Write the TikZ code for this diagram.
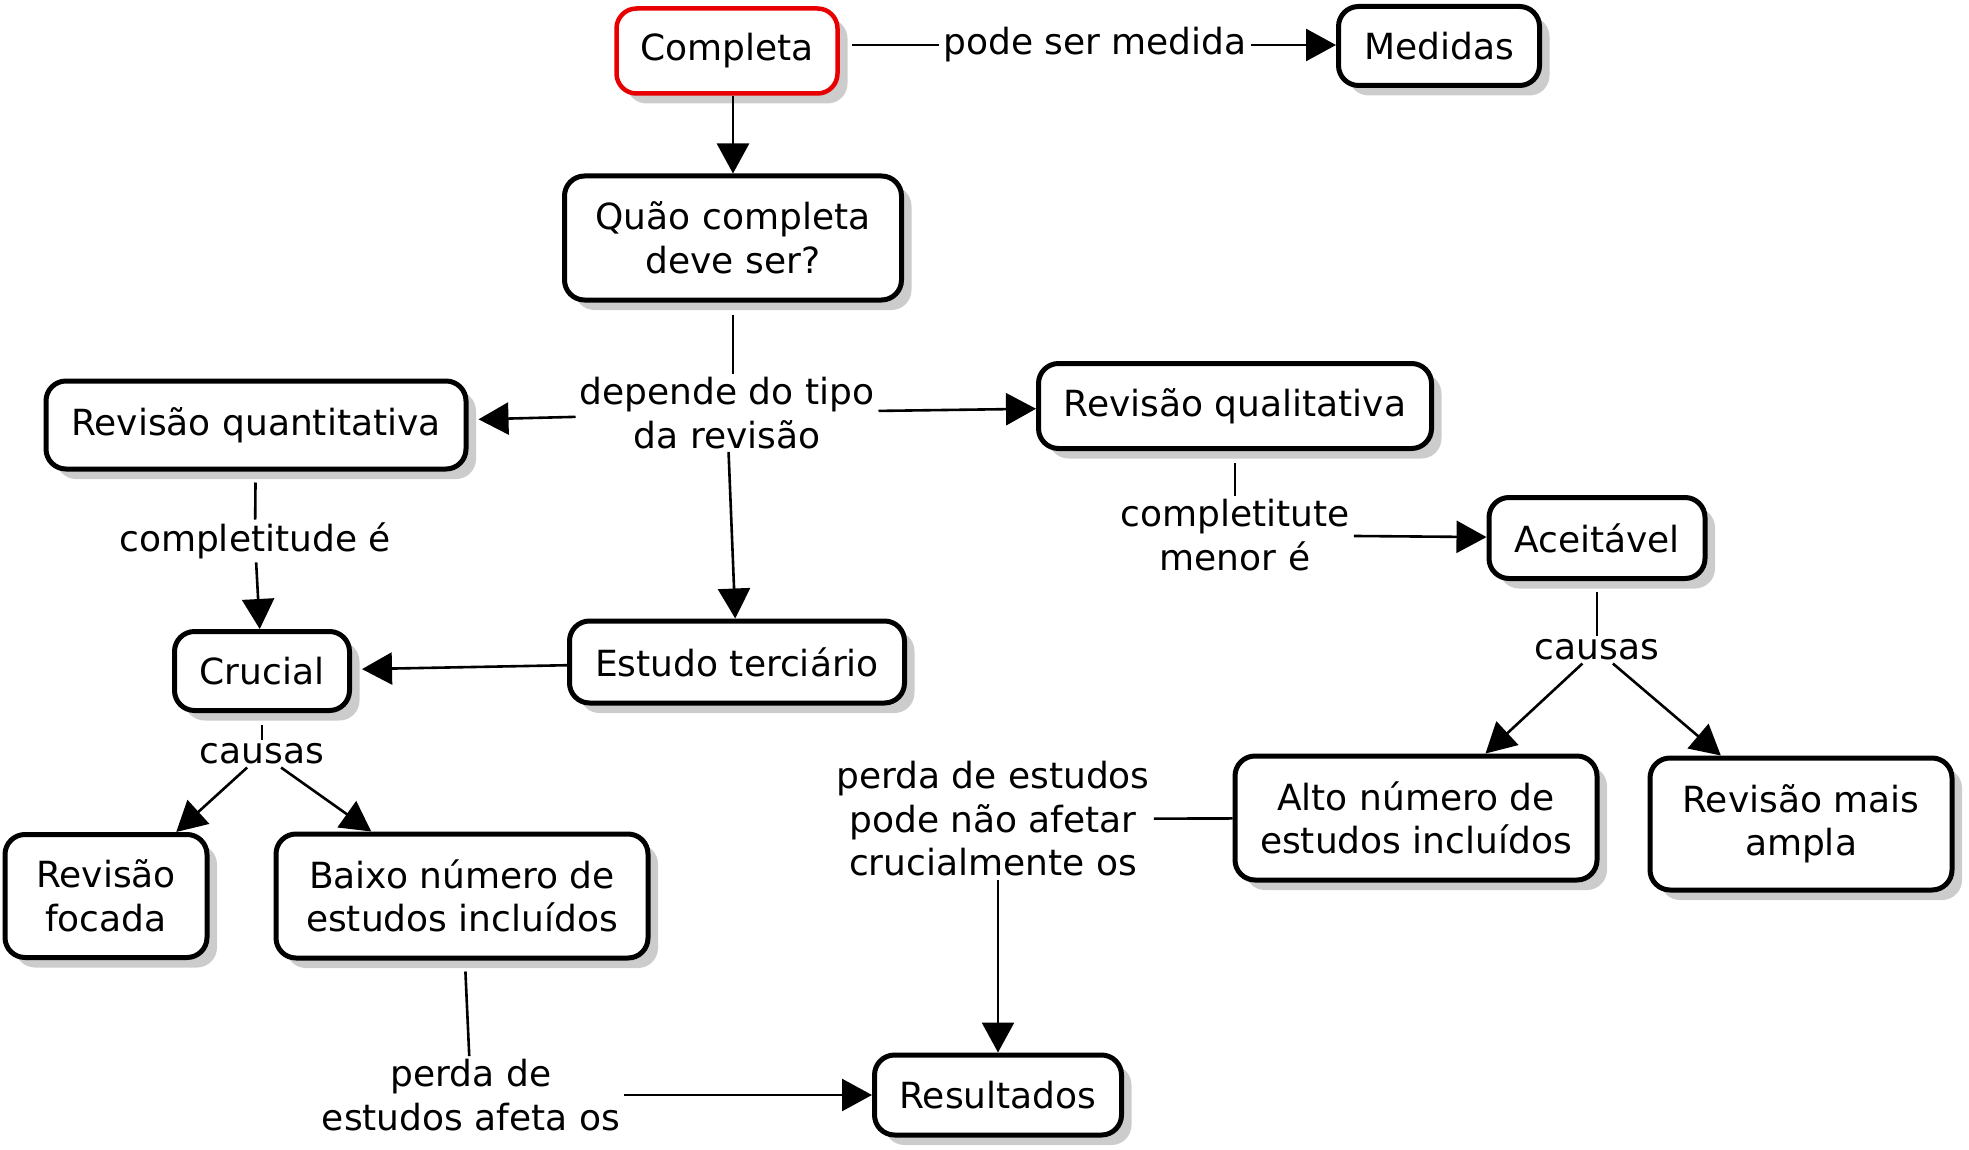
\documentclass[tikz,border=0pt]{standalone}
\usepackage{fontspec}
\setmainfont{DejaVu Sans}
\usetikzlibrary{arrows.meta,shadows}
\definecolor{cmred}{RGB}{232,0,0}
\definecolor{shgray}{RGB}{204,204,204}
\begin{document}
\begin{tikzpicture}[x=1pt,y=-1pt,
  box/.style={draw=black, line width=5pt, rounded corners=20pt, fill=white, align=center, inner sep=0pt,
    font=\fontsize{36}{43.5}\selectfont,
    drop shadow={shadow xshift=10pt, shadow yshift=-10pt, fill=shgray, opacity=1}},
  lab/.style={align=center, inner xsep=4pt, inner ysep=3pt, font=\fontsize{36}{43.5}\selectfont},
  conn/.style={line width=2.6pt},
  arr/.style={conn, -{Triangle[length=30pt,width=32pt]}}
]
\useasboundingbox (0,0) rectangle (1969,1150);

% concept boxes
\node[box, draw=cmred, line width=4.5pt, minimum width=221pt, minimum height=85pt] (c1) at (727,51) {Completa};
\node[box, minimum width=201pt, minimum height=79pt] (med) at (1439,46) {Medidas};
\node[box, minimum width=337pt, minimum height=124pt] (q) at (733,238) {Quão completa\\deve ser?};
\node[box, minimum width=420pt, minimum height=88pt] (rq) at (256,425) {Revisão quantitativa};
\node[box, minimum width=393pt, minimum height=85pt] (rl) at (1235,406) {Revisão qualitativa};
\node[box, minimum width=216pt, minimum height=81pt] (ac) at (1597,538) {Aceitável};
\node[box, minimum width=175pt, minimum height=79pt] (cr) at (262,671) {Crucial};
\node[box, minimum width=335pt, minimum height=82pt] (et) at (737,662) {Estudo terciário};
\node[box, minimum width=202pt, minimum height=123pt] (rf) at (106,896) {Revisão\\focada};
\node[box, minimum width=372pt, minimum height=124pt] (bx) at (462,896) {Baixo número de\\estudos incluídos};
\node[box, minimum width=362pt, minimum height=124pt] (al) at (1416,818) {Alto número de\\estudos incluídos};
\node[box, minimum width=302pt, minimum height=132pt] (ra) at (1801,824) {Revisão mais\\ampla};
\node[box, minimum width=247pt, minimum height=80pt] (res) at (998,1095) {Resultados};

% link labels
\node[lab] (lpm) at (1095,45) {pode ser medida};
\node[lab] (ldep) at (727,413) {depende do tipo\\da revisão};
\node[lab] (lce) at (255,541) {completitude é};
\node[lab] (lcm) at (1235,535) {completitute\\menor é};
\node[lab] (lca1) at (262,754) {causas};
\node[lab] (lca2) at (1597,650) {causas};
\node[lab] (lpn) at (993,819) {perda de estudos\\pode não afetar\\crucialmente os};
\node[lab] (lpa) at (471,1095) {perda de\\estudos afeta os};

% connectors
\draw[conn, shorten <=12pt] (c1.east |- lpm.west) -- (lpm.west);
\draw[arr] (lpm.east) -- (med.west |- lpm.east);
\draw[arr] (c1.south -| q.north) -- (q.north);
\draw[conn, shorten <=12pt] (q.south) -- (q.south |- ldep.north);
\draw[arr, shorten >=10pt] (ldep) -- (rq);
\draw[arr] (ldep) -- (rl);
\draw[arr] (ldep) -- (et);
\draw[conn, shorten <=11pt] (rq) -- (lce);
\draw[arr] (lce) -- (cr);
\draw[arr, shorten >=10pt] (et) -- (cr);
\draw[conn, shorten <=12pt] (rl) -- (lcm);
\draw[arr] (lcm) -- (ac);
\draw[conn, shorten <=12pt] (cr) -- (lca1);
\draw[arr] (lca1) -- (rf);
\draw[arr] (lca1) -- (bx);
\draw[conn, shorten <=11pt] (ac) -- (lca2);
\draw[arr] (lca2) -- (al);
\draw[arr] (lca2) -- (ra);
\draw[conn] (al) -- (lpn);
\draw[arr] (lpn.south -| res.north) -- (res.north);
\draw[conn, shorten <=11pt] (bx) -- (lpa);
\draw[arr] (lpa) -- (res);
\end{tikzpicture}
\end{document}
